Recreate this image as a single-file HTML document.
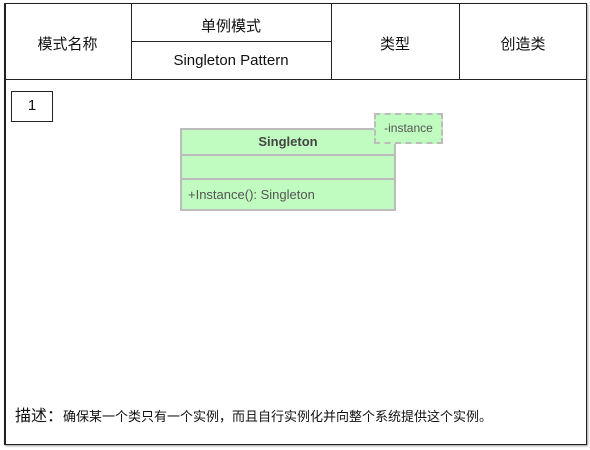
<!DOCTYPE html>
<html><head><meta charset="utf-8"><style>
body{margin:0;width:590px;height:450px;background:#fff;font-family:"Liberation Sans","Noto Sans CJK SC",sans-serif;position:relative;overflow:hidden}
.a{position:absolute;box-sizing:border-box}
.t{position:absolute;text-align:center;font-size:15px;color:#111}
</style></head><body>
<div class="a" style="left:4px;top:3px;width:583px;height:442px;border:1px solid #222;border-left-width:2px;box-shadow:1px 1px 2px #999"></div>
<div class="a" style="left:4px;top:79px;width:583px;height:1px;background:#222"></div>
<div class="a" style="left:131px;top:41px;width:200px;height:1px;background:#222"></div>
<div class="a" style="left:131px;top:4px;width:1px;height:75px;background:#222"></div>
<div class="a" style="left:331px;top:4px;width:1px;height:75px;background:#222"></div>
<div class="a" style="left:459px;top:4px;width:1px;height:75px;background:#222"></div>
<div class="t" style="left:4px;width:127px;top:33px">模式名称</div>
<div class="t" style="left:131px;width:200px;top:15px">单例模式</div>
<div class="t" style="left:131px;width:200px;top:52px">Singleton Pattern</div>
<div class="t" style="left:331px;width:128px;top:33px">类型</div>
<div class="t" style="left:459px;width:128px;top:33px">创造类</div>
<div class="a" style="left:11px;top:91px;width:42px;height:31px;border:1px solid #222"></div>
<div class="t" style="left:11px;width:42px;top:97px">1</div>
<div class="a" style="left:180px;top:128px;width:216px;height:83px;background:#c0fbbf;border:2px solid #bcbcbc"></div>
<div class="a" style="left:180px;top:154px;width:216px;height:2px;background:#bcbcbc"></div>
<div class="a" style="left:180px;top:178px;width:216px;height:2px;background:#bcbcbc"></div>
<div class="t" style="left:180px;width:216px;top:134px;font-size:13px;font-weight:bold;color:#444">Singleton</div>
<div class="t" style="left:188px;top:187px;font-size:13px;color:#555;text-align:left">+Instance(): Singleton</div>
<div class="a" style="left:374px;top:113px;width:69px;height:31px;background:#c0fbbf;border:2px dashed #bcbcbc"></div>
<div class="t" style="left:374px;width:69px;top:121px;font-size:12px;color:#555">-instance</div>
<div class="t" style="left:15px;top:402px;font-size:16px;text-align:left;white-space:nowrap">描述：<span style="font-size:13px">确保某一个类只有一个实例，而且自行实例化并向整个系统提供这个实例。</span></div>
</body></html>
